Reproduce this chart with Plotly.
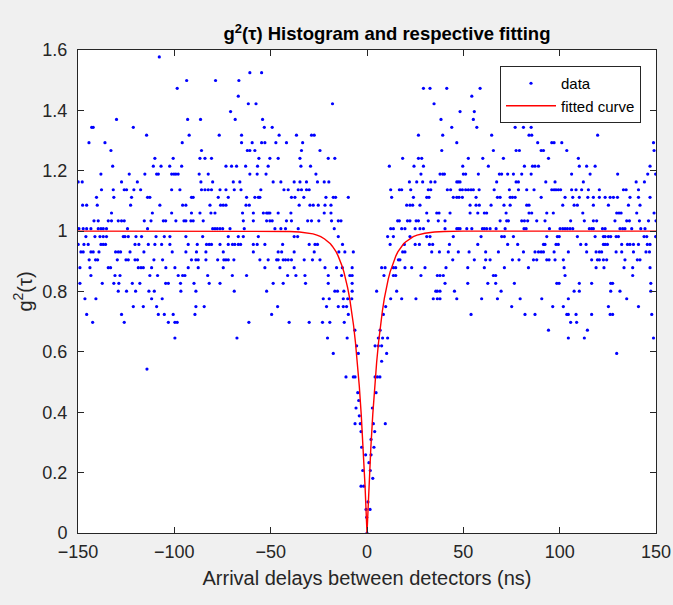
import plotly.graph_objects as go

# Normalised coincidence histogram: each g2 level holds the delays (ns) of the bins at that level
g2_levels = [
    1.577, 1.525, 1.499, 1.473, 1.447, 1.422, 1.396, 1.370, 1.344, 1.318,
    1.293, 1.267, 1.241, 1.215, 1.189, 1.163, 1.137, 1.112, 1.086, 1.060,
    1.034, 1.008, 0.982, 0.956, 0.931, 0.905, 0.879, 0.853, 0.827, 0.801,
    0.776, 0.750, 0.724, 0.698, 0.672, 0.646, 0.620, 0.595, 0.569, 0.543,
    0.517, 0.465, 0.439, 0.414, 0.388, 0.362, 0.336, 0.310, 0.284, 0.259,
    0.233, 0.207, 0.181, 0.155, 0.103, 0.078, 0.052, 0.000,
]

tau_rows = [
    [-107.8],
    [-60.8, -54.7],
    [-93.6, -78.6, -66.5],
    [-98.5, 29.3, 32.7, 41.4, 58.7],
    [-66.8, 54.4],
    [-61.6, -57.6, -17.9, 34.8],
    [-70.8, 48.3, 55.7],
    [-130.0, -93.1, -86.4, -68.4, -54.2, 38.4, 55.2, 82.6, 90.2, 133.9],
    [-142.9, -142.1, -121.3, -53.3, -49.2, 44.0, 57.0, 76.9, 81.2, 85.2],
    [-114.4, -92.3, -76.7, -65.1, -45.6, -36.6, -28.8, -27.4, 26.7, 39.3,
     64.7, 84.1, 85.5, 119.7],
    [-144.3, -136.0, -95.9, -65.1, -59.6, -54.7, -53.0, -47.3, -41.8, -33.4,
     46.6, 88.6, 95.9, 97.1, 101.1, 148.7],
    [-132.9, -85.9, -62.1, -60.8, -58.2, -34.0, -24.4, 38.8, 65.6, 77.4,
     79.1, 90.4, 91.6, 103.7, 149.0],
    [-110.1, -100.6, -86.7, -84.1, -80.7, -56.1, -50.4, -46.1, -34.8, -20.1,
     -16.7, 18.5, 26.7, 28.4, 52.6, 60.1, 70.8, 94.2, 109.7],
    [-132.0, -110.9, -106.9, -102.4, -96.2, -73.2, -70.3, -67.7, -63.0, -56.8,
     -51.3, -34.3, -29.3, 11.6, 24.4, 29.3, 49.7, 63.0, 81.7, 85.9,
     87.2, 89.0, 110.2, 114.0, 118.4, 146.9],
    [-138.1, -123.4, -115.3, -109.2, -108.3, -101.4, -100.2, -99.2, -98.0, -87.1,
     -82.4, -60.8, -57.0, -52.4, -26.5, 28.0, 37.9, 39.3, 40.2, 50.0,
     51.2, 57.8, 68.7, 69.9, 73.0, 76.0, 80.3, 85.2, 106.2, 115.8,
     130.1, 145.7, 149.8],
    [-149.9, -147.8, -127.4, -119.2, -86.2, -80.1, -69.4, -66.0, -48.7, -44.7,
     -37.8, -34.8, -31.4, -25.7, -22.2, -19.8, 22.0, 25.8, 28.9, 33.1,
     35.3, 46.6, 47.4, 48.3, 67.3, 77.4, 78.6, 92.8, 97.6, 112.3,
     139.7, 144.0],
    [-137.8, -131.7, -126.0, -124.8, -121.0, -117.5, -101.4, -97.1, -85.9, -84.1,
     -82.4, -80.7, -76.3, -73.2, -68.9, -65.4, -55.1, -43.1, -40.9, -35.7,
     -34.0, -31.4, -30.0, 12.3, 16.8, 18.0, 22.7, 31.8, 33.1, 41.7,
     43.4, 48.3, 49.5, 51.2, 52.6, 54.0, 55.2, 58.2, 66.0, 73.9,
     78.6, 82.9, 86.7, 95.9, 97.1, 98.1, 99.3, 100.5, 106.2, 108.5,
     111.4, 114.9, 120.6, 133.1, 134.5, 140.9],
    [-140.4, -131.4, -122.2, -113.9, -112.7, -91.1, -90.2, -77.2, -72.0, -62.5,
     -58.2, -56.4, -55.6, -39.2, -37.4, -32.8, -21.3, -17.5, -16.3, -9.7,
     12.8, 24.1, 31.0, 32.2, 44.8, 46.6, 47.8, 49.5, 56.6, 67.7,
     69.1, 74.3, 75.5, 76.9, 90.4, 102.8, 106.8, 110.2, 114.6, 117.5,
     120.6, 123.6, 126.2, 127.9, 130.0, 136.5, 140.9, 146.9],
    [-147.6, -145.5, -140.0, -122.7, -107.5, -95.7, -94.0, -81.5, -76.0, -74.6,
     -73.2, -62.8, -61.1, -35.2, -29.6, -27.9, -25.3, -21.8, -18.7, 20.6,
     22.3, 23.7, 27.5, 53.5, 56.6, 58.3, 64.4, 71.1, 74.3, 82.9,
     84.1, 101.6, 107.5, 109.2, 117.5, 125.3, 135.7, 141.7],
    [-132.6, -111.4, -101.4, -91.1, -86.7, -81.0, -78.9, -64.6, -59.0, -53.8,
     -52.1, -51.3, -50.4, -46.1, -39.5, -22.2, -18.7, 31.0, 36.2, 37.4,
     43.1, 53.5, 57.5, 60.9, 62.1, 72.2, 84.1, 85.5, 93.3, 96.7,
     112.0, 129.6, 130.8, 131.9, 140.0, 149.0],
    [-141.7, -139.5, -134.3, -132.6, -129.1, -127.4, -126.0, -115.6, -112.1, -105.7,
     -104.5, -99.2, -95.0, -94.0, -91.4, -90.2, -85.0, -64.2, -59.0, -52.1,
     -50.4, -49.2, -41.8, -39.2, -30.8, -28.8, -25.0, -18.4, -14.9, -13.5,
     15.9, 16.8, 21.0, 22.3, 25.5, 26.7, 31.8, 37.0, 40.5, 69.1,
     72.5, 73.4, 80.3, 81.7, 83.4, 88.1, 92.4, 105.7, 112.8, 117.5,
     119.2, 128.7, 134.8, 136.2, 141.4, 146.1, 150.0],
    [-149.5, -147.3, -145.5, -143.3, -139.5, -138.1, -136.9, -135.2, -124.3, -113.9,
     -80.1, -78.9, -77.7, -76.3, -74.9, -71.1, -63.7, -47.8, -44.7, -42.3,
     -35.7, -17.0, 12.3, 13.7, 18.0, 19.7, 25.0, 27.5, 29.3, 40.5,
     46.6, 47.4, 48.3, 51.8, 54.4, 59.9, 60.9, 62.1, 63.9, 67.0,
     71.7, 81.5, 82.6, 94.7, 100.2, 101.6, 102.8, 104.0, 105.4, 106.8,
     115.4, 116.6, 117.5, 122.2, 123.6, 131.3, 132.7, 133.9, 137.4, 142.1,
     144.3],
    [-145.9, -141.2, -138.6, -136.9, -135.2, -126.5, -125.6, -123.9, -119.9, -117.0,
     -109.5, -105.2, -102.3, -94.0, -85.3, -72.0, -66.8, -64.2, -56.4, -37.8,
     -36.0, -14.9, 10.7, 13.7, 22.3, 31.0, 32.7, 44.8, 59.2, 69.9,
     71.3, 76.0, 93.3, 98.8, 99.8, 109.2, 118.4, 122.7, 123.6, 125.3,
     126.5, 129.3, 130.5, 143.8, 145.2, 149.8],
    [-149.9, -146.9, -144.7, -138.1, -136.9, -135.7, -120.4, -118.4, -113.5, -110.1,
     -106.6, -102.3, -92.8, -88.1, -83.3, -81.9, -80.7, -76.3, -72.0, -69.8,
     -68.6, -66.8, -65.6, -59.0, -57.0, -53.0, -43.8, -30.0, -27.0, -25.7,
     -12.7, 12.0, 19.4, 25.0, 27.2, 32.4, 34.1, 42.8, 57.5, 73.0,
     78.2, 91.6, 92.4, 98.1, 99.3, 110.9, 113.7, 122.7, 123.6, 124.8,
     132.2, 135.2, 136.5, 138.3, 140.9, 145.5, 146.9],
    [-148.5, -147.3, -143.3, -142.1, -139.1, -130.5, -129.1, -127.9, -123.0, -115.8,
     -101.1, -94.0, -88.5, -83.6, -74.6, -59.0, -46.1, -44.3, -37.8, -27.4,
     -14.6, -11.5, -7.1, 18.5, 19.7, 33.6, 37.6, 42.2, 47.4, 53.0,
     61.6, 68.2, 81.2, 87.2, 89.0, 90.4, 91.6, 97.1, 104.5, 114.0,
     118.9, 120.6, 121.8, 129.3, 132.2, 138.3, 144.8, 146.6],
    [-144.2, -140.9, -139.8, -129.6, -125.1, -123.9, -120.4, -119.1, -110.6, -106.1,
     -91.1, -88.8, -87.6, -83.6, -77.5, -74.3, -73.2, -72.0, -69.1, -55.6,
     -51.3, -46.9, -46.1, -43.5, -42.3, -40.9, -39.2, -32.6, -28.3, -24.4,
     16.3, 17.1, 44.5, 55.7, 61.6, 63.9, 75.5, 78.9, 86.4, 88.1,
     93.3, 94.5, 97.6, 101.9, 116.6, 119.6, 120.6, 122.7, 124.4, 133.9,
     140.3, 141.7],
    [-149.0, -143.8, -134.3, -133.1, -118.7, -117.3, -116.1, -111.8, -104.4, -99.7,
     -92.8, -87.6, -74.6, -53.0, -45.2, -37.8, -21.8, -15.8, -12.8, -7.7,
     7.6, 9.4, 13.7, 14.9, 19.7, 23.2, 30.1, 41.0, 52.3, 60.9,
     71.3, 83.8, 102.3, 118.9, 123.0, 133.4, 137.9, 146.9],
    [-143.3, -130.8, -128.2, -112.7, -108.7, -98.0, -95.7, -94.5, -82.7, -69.9,
     -62.5, -41.2, -36.9, -32.2, -20.1, -13.2, -8.9, -7.7, 8.8, 13.7,
     14.9, 28.0, 36.5, 37.9, 39.6, 65.6, 66.8, 102.8, 137.9],
    [-149.0, -137.4, -131.4, -128.8, -121.8, -117.9, -104.5, -103.1, -96.8, -89.8,
     -81.9, -76.3, -48.7, -43.5, -31.9, -20.1, -7.7, 40.5, 52.3, 62.7,
     66.8, 76.5, 98.5, 99.7, 110.2, 116.6, 126.5, 127.5, 147.3],
    [-129.1, -124.8, -120.1, -113.2, -110.4, -96.6, -88.8, -68.9, -52.1, -16.7,
     -15.3, -12.0, -7.7, 5.0, 15.4, 35.7, 36.5, 37.9, 45.4, 69.6,
     107.5, 110.2, 126.5, 131.3, 147.3],
    [-146.4, -140.7, -111.8, -106.3, -22.7, -19.6, -12.3, -10.0, -7.9, 12.3,
     18.0, 25.4, 34.4, 36.5, 37.9, 46.6, 59.5, 67.7, 79.5, 90.7,
     104.5, 134.8],
    [-121.3, -116.1, -109.2, -88.8, -84.5, -46.4, -21.0, -14.9, -12.3, -10.6,
     9.7, 75.1, 96.4, 101.9, 125.3, 140.9],
    [-145.5, -127.4, -108.3, -105.2, -100.6, -89.3, -49.5, -9.7, 8.5, 54.0,
     82.0, 87.2, 103.7, 104.5, 108.5, 116.6, 126.2, 127.5, 147.8],
    [-142.4, -126.0, -103.1, -99.7, -98.5, -61.3, -40.4, -30.0, -23.1, -19.3,
     -11.8, 105.7, 108.8],
    [-6.3, 6.8, 94.2, 114.4],
    [-99.7, -67.5, -20.5, -10.3, 5.9, 8.1, 10.7, 104.5, 112.8, 148.7],
    [-5.4, 4.2, 5.9, 7.6],
    [-17.5, -4.5, 10.2, 129.6],
    [7.6],
    [-114.2],
    [-10.9, -7.1, -6.2, 4.2, 5.4, 6.7],
    [-4.8, 4.7],
    [-4.3],
    [-5.7, 2.8],
    [-4.0],
    [-6.2, -3.5, 3.3, 9.5],
    [-3.1, 4.0],
    [2.1],
    [-2.8, 3.6],
    [-0.7, 2.1],
    [1.0],
    [-2.2, 1.7],
    [3.0],
    [-3.1, -1.7],
    [0.5],
    [-0.5, 1.6],
    [-0.2],
    [0.0],
]

# Fitted antibunching dip, sampled along the delay axis
fit_tau = [-150, -50, -40, -35, -30, -28, -26, -24, -22, -20, -19, -18, -17, -16,
           -15, -14, -13, -12, -11, -10, -9, -8, -7, -6, -5, -4, -3, -2, -1, 0,
           1, 2, 3, 4, 5, 6, 7, 8, 9, 10, 11, 12, 13, 14, 15, 16, 17, 18, 19,
           20, 22, 24, 26, 28, 30, 35, 40, 50, 150]
fit_g2 = [1.000, 1.000, 0.999, 0.997, 0.993, 0.991, 0.987, 0.982, 0.974, 0.964,
          0.958, 0.950, 0.941, 0.931, 0.918, 0.903, 0.885, 0.865, 0.840, 0.811,
          0.777, 0.736, 0.689, 0.632, 0.565, 0.487, 0.393, 0.283, 0.154, 0.000,
          0.154, 0.283, 0.393, 0.487, 0.565, 0.632, 0.689, 0.736, 0.777, 0.811,
          0.840, 0.865, 0.885, 0.903, 0.918, 0.931, 0.941, 0.950, 0.958, 0.964,
          0.974, 0.982, 0.987, 0.991, 0.993, 0.997, 0.999, 1.000, 1.000]

x_ticks = [-150, -100, -50, 0, 50, 100, 150]
y_ticks = [0, 0.2, 0.4, 0.6, 0.8, 1, 1.2, 1.4, 1.6]

data_tau = []
data_g2 = []
for level, taus in zip(g2_levels, tau_rows):
    data_tau.extend(taus)
    data_g2.extend([level] * len(taus))

AX = "#262626"
FONT = "Liberation Sans, Arial, sans-serif"

fig = go.Figure()
fig.add_trace(go.Scatter(
    x=data_tau, y=data_g2, mode="markers", name="data",
    marker=dict(color="#0000ff", size=3.2, line=dict(width=0)),
))
fig.add_trace(go.Scatter(
    x=fit_tau, y=fit_g2, mode="lines", name="fitted curve",
    line=dict(color="#ff0000", width=1.4),
))

axis_common = dict(
    showline=True, linecolor=AX, linewidth=1, mirror="allticks",
    ticks="inside", ticklen=6, tickcolor=AX, tickwidth=1,
    showgrid=False, zeroline=False, automargin=False,
    tickfont=dict(family=FONT, size=18, color=AX),
)

fig.update_layout(
    width=673, height=605,
    margin=dict(l=78, r=17, t=50, b=72, autoexpand=False),
    paper_bgcolor="#f0f0f0", plot_bgcolor="#ffffff",
    font=dict(family=FONT, color=AX),
    title=dict(
        text="<b>g<sup>2</sup>(τ) Histogram and respective fitting</b>",
        x=387 / 673, xanchor="center", y=1 - 34 / 605, yanchor="middle",
        font=dict(family=FONT, size=18.5, color="#000000"),
        automargin=False,
    ),
    xaxis=dict(
        range=[-150, 150], tickvals=x_ticks, ticklabelstandoff=2,
        title=dict(text="Arrival delays between detectors (ns)",
                   font=dict(family=FONT, size=20, color=AX), standoff=10),
        **axis_common,
    ),
    yaxis=dict(
        range=[0, 1.6], tickvals=y_ticks, ticklabelstandoff=6,
        title=dict(text="g<sup>2</sup>(τ)",
                   font=dict(family=FONT, size=20, color=AX), standoff=4),
        **axis_common,
    ),
    legend=dict(
        x=(641 - 78) / 578, xanchor="right", y=(533 - 66) / 483, yanchor="top",
        bgcolor="#ffffff", bordercolor=AX, borderwidth=1,
        font=dict(family=FONT, size=15, color="#000000"),
        itemwidth=50, tracegroupgap=0,
    ),
    showlegend=True,
)

fig.write_html("out.html")
